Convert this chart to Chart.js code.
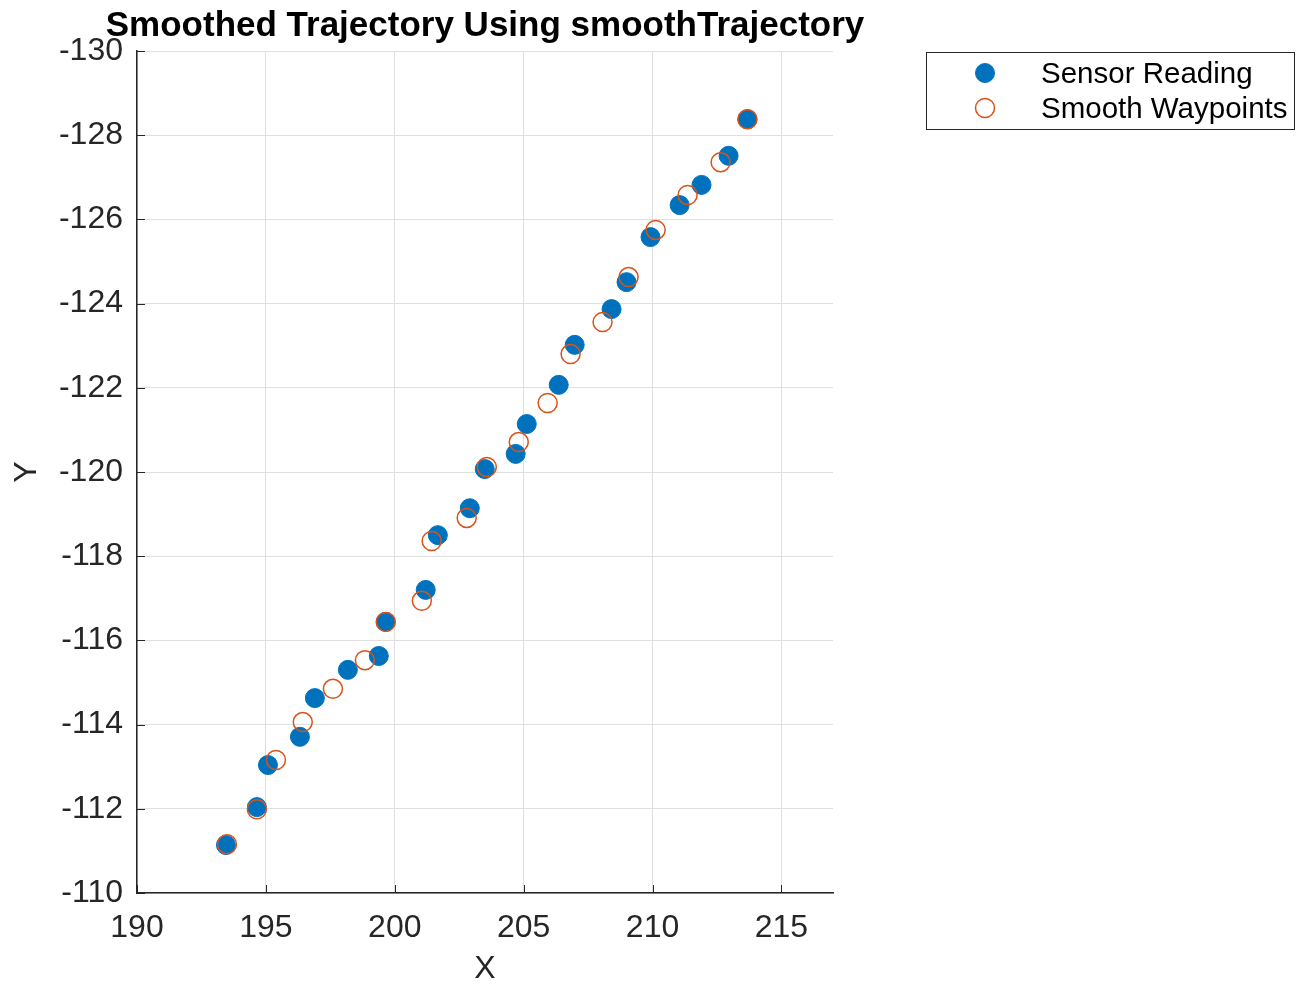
<!DOCTYPE html>
<html>
<head>
<meta charset="utf-8">
<script src="https://cdn.jsdelivr.net/npm/chart.js@4/dist/chart.umd.min.js"></script>
<style>
  html, body { margin: 0; padding: 0; background: #fff; }
  #wrap { width: 1297px; height: 985px; }
</style>
</head>
<body>
<div id="wrap"><canvas id="trajChart" width="1297" height="985"></canvas></div>
<script>
// values
const sensorX = [193.45, 194.65, 195.08, 196.32, 196.90, 198.18, 199.38, 199.65, 201.20, 201.67,
  202.91, 203.49, 204.69, 205.12, 206.36, 206.98, 208.41, 208.99, 209.92, 211.05, 211.90, 212.95, 213.68];
const sensorY = [-111.14, -112.04, -113.04, -113.71, -114.63, -115.30, -115.63, -116.44, -117.20, -118.50,
  -119.14, -120.07, -120.43, -121.14, -122.07, -123.02, -123.87, -124.51, -125.58, -126.34, -126.82, -127.51, -128.38];

const smoothX = [193.49, 194.65, 195.39, 196.43, 197.60, 198.84, 199.65, 201.05, 201.43, 202.79,
  203.57, 204.81, 205.93, 206.82, 208.06, 209.07, 210.12, 211.36, 212.64, 213.68];
const smoothY = [-111.16, -111.99, -113.16, -114.06, -114.85, -115.53, -116.44, -116.94, -118.36, -118.91,
  -120.12, -120.71, -121.64, -122.80, -123.56, -124.63, -125.75, -126.58, -127.36, -128.38];

const xTicks = [190, 195, 200, 205, 210, 215];
const yTicks = [-130, -128, -126, -124, -122, -120, -118, -116, -114, -112, -110];

const seriesNames = ['Sensor Reading', 'Smooth Waypoints'];
const chartTitle = 'Smoothed Trajectory Using smoothTrajectory';

const toPoints = (xs, ys) => xs.map((x, i) => ({ x: x, y: ys[i] }));

const FONT = "'Liberation Sans', Arial, Helvetica, sans-serif";
const AXIS_COLOR = '#262626';

// title, inward tick marks and the boxed legend, MATLAB style
const matlabDecor = {
  id: 'matlabDecor',
  afterDraw(chart) {
    const c = chart.ctx;
    const area = chart.chartArea;
    const xs = chart.scales.x, ys = chart.scales.y;

    c.save();
    // inward ticks
    c.strokeStyle = AXIS_COLOR;
    c.lineWidth = 1;
    c.beginPath();
    xTicks.forEach(v => {
      const px = Math.round(xs.getPixelForValue(v)) + 0.5;
      c.moveTo(px, area.bottom);
      c.lineTo(px, area.bottom - 8);
    });
    yTicks.forEach(v => {
      const py = Math.round(ys.getPixelForValue(v)) + 0.5;
      c.moveTo(area.left, py);
      c.lineTo(area.left + 8, py);
    });
    c.stroke();

    // title
    c.fillStyle = '#000';
    c.font = 'bold 35px ' + FONT;
    c.textAlign = 'center';
    c.textBaseline = 'middle';
    c.fillText(chartTitle, (area.left + area.right) / 2, 26);

    // legend
    const lx = 926.5, ly = 52.5, lw = 368, lh = 77;
    c.fillStyle = '#fff';
    c.fillRect(lx, ly, lw, lh);
    c.strokeStyle = AXIS_COLOR;
    c.lineWidth = 1;
    c.strokeRect(lx, ly, lw, lh);

    chart.data.datasets.forEach((ds, i) => {
      const my = 73 + i * 35;
      c.beginPath();
      c.arc(985, my, 9.5, 0, Math.PI * 2);
      if (ds.backgroundColor !== 'rgba(0,0,0,0)') {
        c.fillStyle = ds.backgroundColor;
        c.fill();
      }
      c.strokeStyle = ds.borderColor;
      c.lineWidth = ds.borderWidth;
      c.stroke();

      c.fillStyle = '#000';
      c.font = '29.5px ' + FONT;
      c.textAlign = 'left';
      c.textBaseline = 'middle';
      c.fillText(ds.label, 1041, my + 2);
    });
    c.restore();
  }
};

const ctx = document.getElementById('trajChart').getContext('2d');
const chart = new Chart(ctx, {
  type: 'scatter',
  data: {
    datasets: [
      {
        label: seriesNames[0],
        data: toPoints(sensorX, sensorY),
        backgroundColor: '#0072BD',
        borderColor: '#0072BD',
        borderWidth: 1,
        pointRadius: 9.5,
        order: 1
      },
      {
        label: seriesNames[1],
        data: toPoints(smoothX, smoothY),
        backgroundColor: 'rgba(0,0,0,0)',
        borderColor: '#D95319',
        borderWidth: 1.5,
        pointRadius: 9.5,
        order: 0
      }
    ]
  },
  options: {
    responsive: false,
    animation: false,
    devicePixelRatio: 1,
    layout: { padding: { top: 51, right: 464, left: 0, bottom: 0 } },
    plugins: {
      legend: { display: false },
      title: { display: false },
      tooltip: { enabled: false }
    },
    scales: {
      x: {
        type: 'linear',
        min: 190,
        max: 217,
        afterBuildTicks: s => { s.ticks = xTicks.map(v => ({ value: v })); },
        afterFit: s => { s.height = 92; },
        grid: { color: '#dfdfdf', drawTicks: false },
        border: { display: true, color: AXIS_COLOR, width: 1.5 },
        ticks: { padding: 16, color: AXIS_COLOR, font: { family: FONT, size: 32 }, maxRotation: 0 },
        title: { display: true, text: 'X', color: AXIS_COLOR, font: { family: FONT, size: 32, lineHeight: 1 }, padding: { top: 0, bottom: 0 } }
      },
      y: {
        type: 'linear',
        reverse: true,
        min: -130,
        max: -110,
        afterBuildTicks: s => { s.ticks = yTicks.map(v => ({ value: v })); },
        afterFit: s => { s.width = 137; },
        grid: { color: '#dfdfdf', drawTicks: false },
        border: { display: true, color: AXIS_COLOR, width: 1.5 },
        ticks: { padding: 14, color: AXIS_COLOR, font: { family: FONT, size: 32 } },
        title: { display: true, text: 'Y', color: AXIS_COLOR, font: { family: FONT, size: 32, lineHeight: 1 }, padding: { top: 11, bottom: 0 } }
      }
    }
  },
  plugins: [matlabDecor]
});
</script>
</body>
</html>
